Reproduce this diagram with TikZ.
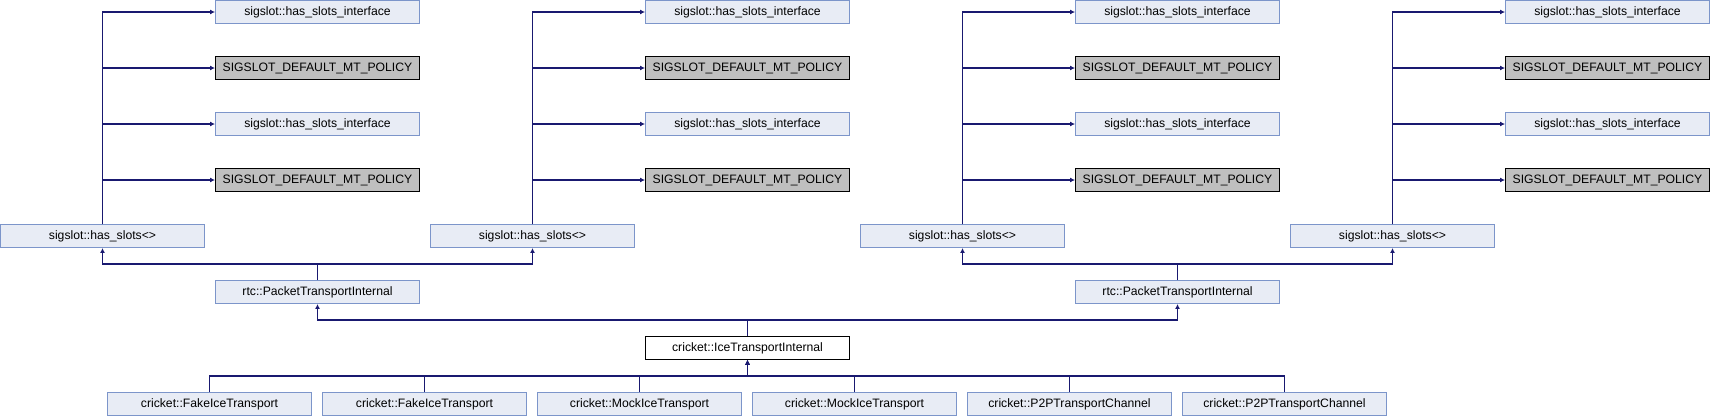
\documentclass[tikz,border=0pt]{standalone}
\usepackage{fontspec}
\setmainfont{Liberation Sans}
\usetikzlibrary{arrows.meta}
\definecolor{boxfill}{HTML}{E8ECF5}
\definecolor{boxline}{HTML}{7C95CA}
\definecolor{grayfill}{HTML}{BFBFBF}
\definecolor{edgeblue}{HTML}{191970}
\begin{document}
\begin{tikzpicture}[x=1pt,y=-1pt,
  cls/.style={draw=boxline, fill=boxfill, line width=0.9pt, minimum width=204pt, minimum height=23pt, inner sep=0pt, font=\fontsize{12.2}{14}\selectfont},
  undoc/.style={cls, draw=black, fill=grayfill},
  selfcls/.style={cls, draw=black, fill=white},
  inh/.style={draw=edgeblue, line width=1.2pt, -{Latex[length=5pt,width=5pt]}}]
\useasboundingbox (0,0) rectangle (1710,416);
\foreach \k in {0,1,2,3} {
  \node[cls] (hs\k) at (102.5+430*\k,236) {sigslot::has\_slots<>};
  \node[cls] (a\k) at (317.5+430*\k,12) {sigslot::has\_slots\_interface};
  \node[undoc] (b\k) at (317.5+430*\k,68) {SIGSLOT\_DEFAULT\_MT\_POLICY};
  \node[cls] (c\k) at (317.5+430*\k,124) {sigslot::has\_slots\_interface};
  \node[undoc] (d\k) at (317.5+430*\k,180) {SIGSLOT\_DEFAULT\_MT\_POLICY};
  \foreach \t in {a,b,c,d} \draw[inh] (hs\k.north) |- (\t\k.west);
}
\node[cls] (r0) at (317.5,292) {rtc::PacketTransportInternal};
\node[cls] (r1) at (1177.5,292) {rtc::PacketTransportInternal};
\node[selfcls] (ice) at (747.5,348) {cricket::IceTransportInternal};
\draw[inh] (r0.north) -- ++(0,-16) -| (hs0.south);
\draw[inh] (r0.north) -- ++(0,-16) -| (hs1.south);
\draw[inh] (r1.north) -- ++(0,-16) -| (hs2.south);
\draw[inh] (r1.north) -- ++(0,-16) -| (hs3.south);
\draw[inh] (ice.north) -- ++(0,-16) -| (r0.south);
\draw[inh] (ice.north) -- ++(0,-16) -| (r1.south);
\foreach \j/\name in {0/FakeIceTransport,1/FakeIceTransport,2/MockIceTransport,3/MockIceTransport,4/P2PTransportChannel,5/P2PTransportChannel} {
  \node[cls] (p\j) at (209.5+215*\j,404) {cricket::\name};
  \draw[inh] (p\j.north) -- ++(0,-16) -| (ice.south);
}
\end{tikzpicture}
\end{document}
